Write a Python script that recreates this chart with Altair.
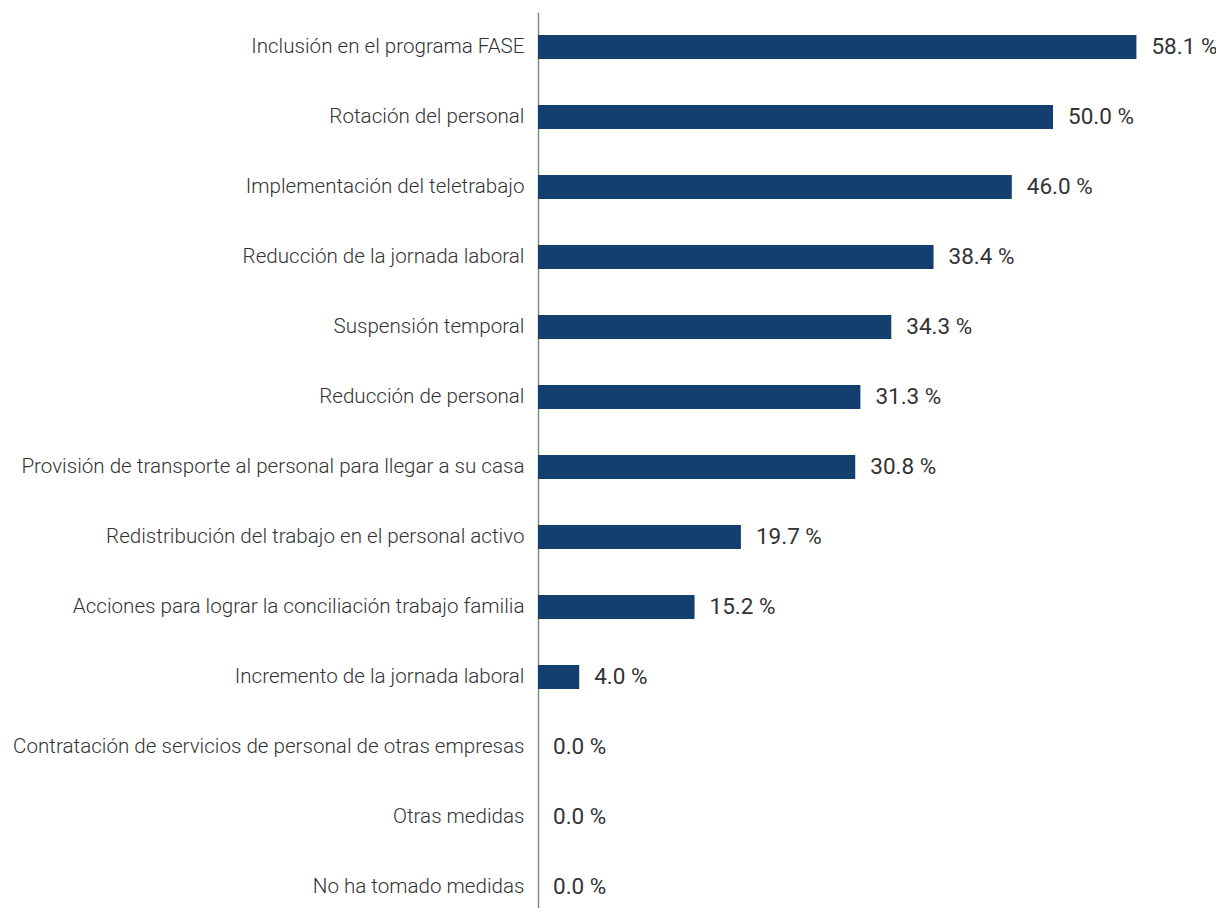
import altair as alt
import pandas as pd

categories = [
    "Inclusión en el programa FASE",
    "Rotación del personal",
    "Implementación del teletrabajo",
    "Reducción de la jornada laboral",
    "Suspensión temporal",
    "Reducción de personal",
    "Provisión de transporte al personal para llegar a su casa",
    "Redistribución del trabajo en el personal activo",
    "Acciones para lograr la conciliación trabajo familia",
    "Incremento de la jornada laboral",
    "Contratación de servicios de personal de otras empresas",
    "Otras medidas",
    "No ha tomado medidas",
]
values = [58.1, 50.0, 46.0, 38.4, 34.3, 31.3, 30.8, 19.7, 15.2, 4.0, 0.0, 0.0, 0.0]

df = pd.DataFrame({"cat": categories, "val": values})
df["label"] = df["val"].map(lambda v: f"{v:.1f} %")

y = alt.Y("cat:N", sort=categories, title=None,
          scale=alt.Scale(paddingInner=0.657, paddingOuter=0.2286, align=0.72),
          axis=alt.Axis(ticks=False, domainColor="#8a8a8a", domainWidth=1.5,
                        labelFont="Roboto", labelFontWeight=300, labelFontSize=20.6,
                        labelColor="#333333", labelPadding=14, labelLimit=600))
x = alt.X("val:Q", title=None, scale=alt.Scale(domain=[0, 60], nice=False),
          axis=None)

bars = alt.Chart(df).mark_bar(color="#133f6e").encode(x=x, y=y)
text = alt.Chart(df).mark_text(align="left", baseline="middle", dx=15,
                               font="Roboto", fontSize=22.5, color="#333333").encode(
    x=x, y=alt.Y("cat:N", sort=categories), text="label:N")

chart = (bars + text).properties(
    width=618, height=896,
    autosize=alt.AutoSizeParams(type="none"),
    padding={"left": 530, "top": 4, "right": 60, "bottom": 0},
).configure_view(stroke=None)

chart.save("out.html", embed_options={"renderer": "svg", "actions": False})
